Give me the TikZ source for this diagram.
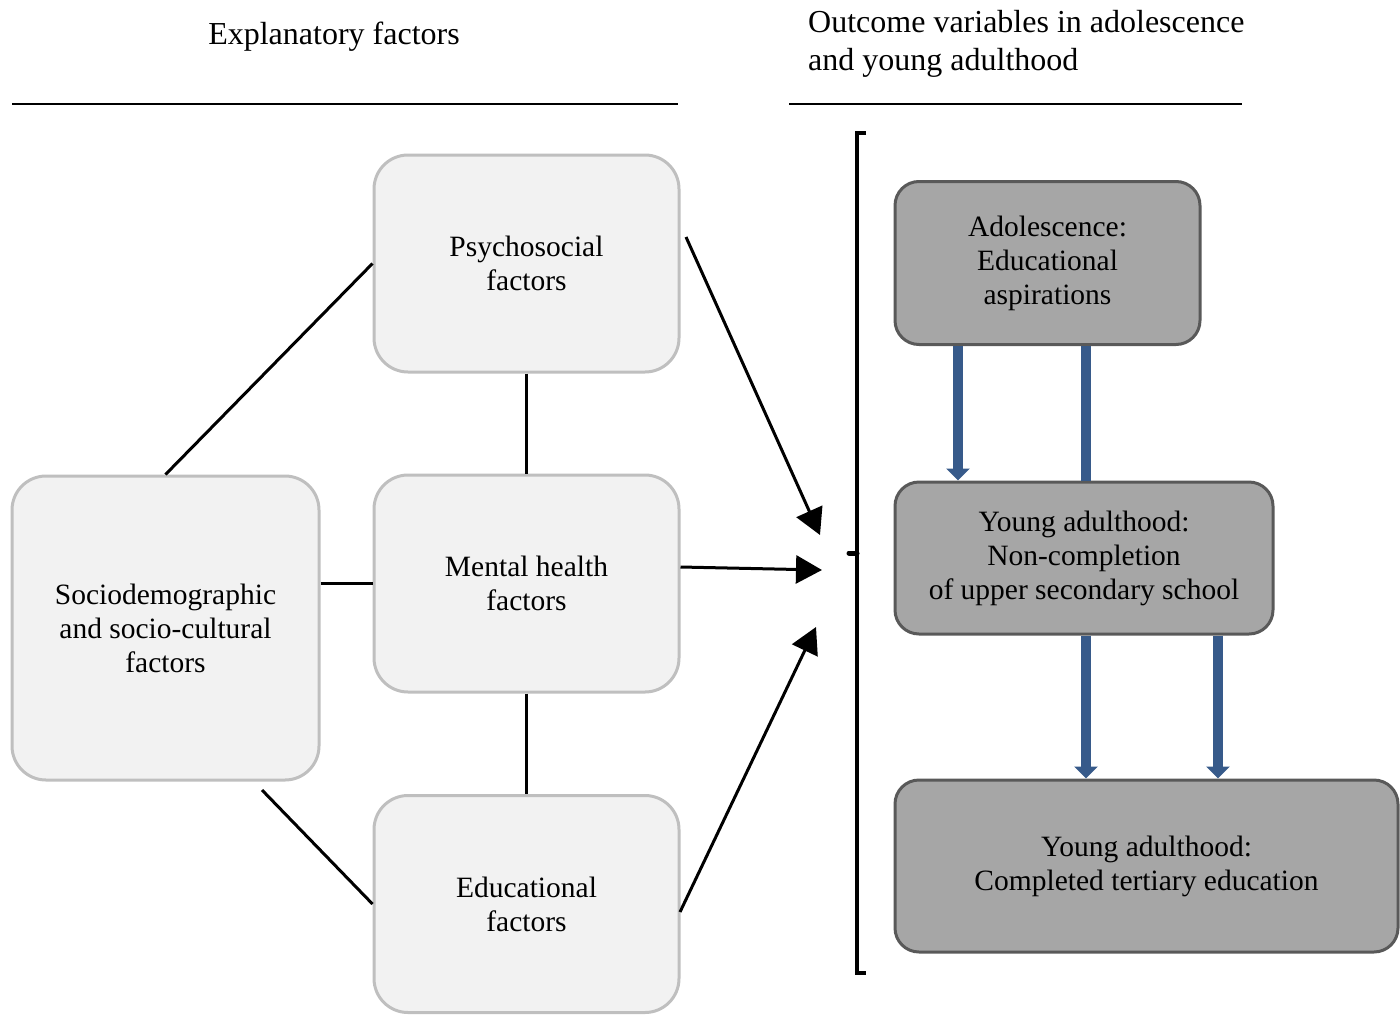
\documentclass[tikz,border=0pt]{standalone}
\usepackage{fontspec}
\setmainfont{Liberation Serif}
\usetikzlibrary{arrows.meta}
\definecolor{boxfill}{HTML}{F2F2F2}
\definecolor{boxline}{HTML}{BFBFBF}
\definecolor{outfill}{HTML}{A6A6A6}
\definecolor{outline}{HTML}{595959}
\definecolor{flowblue}{HTML}{375A8A}
\tikzset{
	factor/.style={draw=boxline,fill=boxfill,line width=3pt,rounded corners=34pt,align=center,inner sep=0pt},
	outcome/.style={draw=outline,fill=outfill,line width=3pt,rounded corners=24pt,align=center,inner sep=0pt},
	header/.style={font=\fontsize{32}{38}\selectfont,inner sep=0pt},
	link/.style={line width=3pt},
	effect/.style={line width=3pt,-{Triangle[width=28pt,length=26pt]}},
	flow/.style={draw=flowblue,line width=10pt,-{Triangle[width=23pt,length=12pt]}},
	flowline/.style={draw=flowblue,line width=10pt}
}
\begin{document}
\begin{tikzpicture}[x=1pt,y=-1pt,line join=miter,font=\fontsize{29.5}{34}\selectfont]
	% khung
	\useasboundingbox (0,0) rectangle (1400,1015);
	% tieu de
	\node[header] (hleft) at (334,37) {Explanatory factors};
	\node[header,anchor=west,align=left] (hright) at (808,44) {Outcome variables in adolescence\\and young adulthood};
	\draw[line width=2pt] (12,104) -- (678,104);
	\draw[line width=2pt] (789,104) -- (1242,104);
	% cac yeu to
	\node[factor,minimum width=305pt,minimum height=217pt] (psy) at (526.5,263.5) {Psychosocial\\factors};
	\node[factor,minimum width=305pt,minimum height=217pt] (ment) at (526.5,583.5) {Mental health\\factors};
	\node[factor,minimum width=305pt,minimum height=217pt] (edu) at (526.5,904) {Educational\\factors};
	\node[factor,minimum width=307pt,minimum height=304pt] (soc) at (165.5,628) {Sociodemographic\\and socio-cultural\\factors};
	\draw[link] (soc.north) -- (psy.west);
	\draw[link] (psy.south) -- (ment.north);
	\draw[link] (soc.east |- ment.west) -- (ment.west);
	\draw[link] (ment.south) -- (edu.north);
	\coordinate (socend) at (262,790);
	\draw[link] (socend) -- (edu.west);
	% mui ten den
	\coordinate (psyout) at (686,237);
	\coordinate (edout) at (680,912);
	\coordinate (tpsy) at (820,535);
	\coordinate (tment) at (822,570);
	\coordinate (tedu) at (816,627);
	\draw[effect] (psyout) -- (tpsy);
	\draw[effect] (ment.east |- 0,567) -- (tment);
	\draw[effect] (edout) -- (tedu);
	% ngoac
	\draw[line width=4pt] (866,133) -- (857,133) -- (857,973) -- (866,973);
	\draw[line width=5pt,line cap=round] (857,553) -- (849,553);
	% ket qua
	\node[outcome,minimum width=305pt,minimum height=163pt] (ado) at (1047.5,263) {Adolescence:\\Educational\\aspirations};
	\node[outcome,minimum width=378pt,minimum height=152pt] (nonc) at (1084,558) {Young adulthood:\\Non-completion\\of upper secondary school};
	\node[outcome,minimum width=503pt,minimum height=172pt] (tert) at (1146.5,866) {Young adulthood:\\Completed tertiary education};
	\draw[flow] (ado.south -| 958,0) -- (nonc.north -| 958,0);
	\draw[flowline] (ado.south -| 1086,0) -- (nonc.north -| 1086,0);
	\draw[flow] (nonc.south -| 1086,0) -- (tert.north -| 1086,0);
	\draw[flow] (nonc.south -| 1218,0) -- (tert.north -| 1218,0);
\end{tikzpicture}
\end{document}
